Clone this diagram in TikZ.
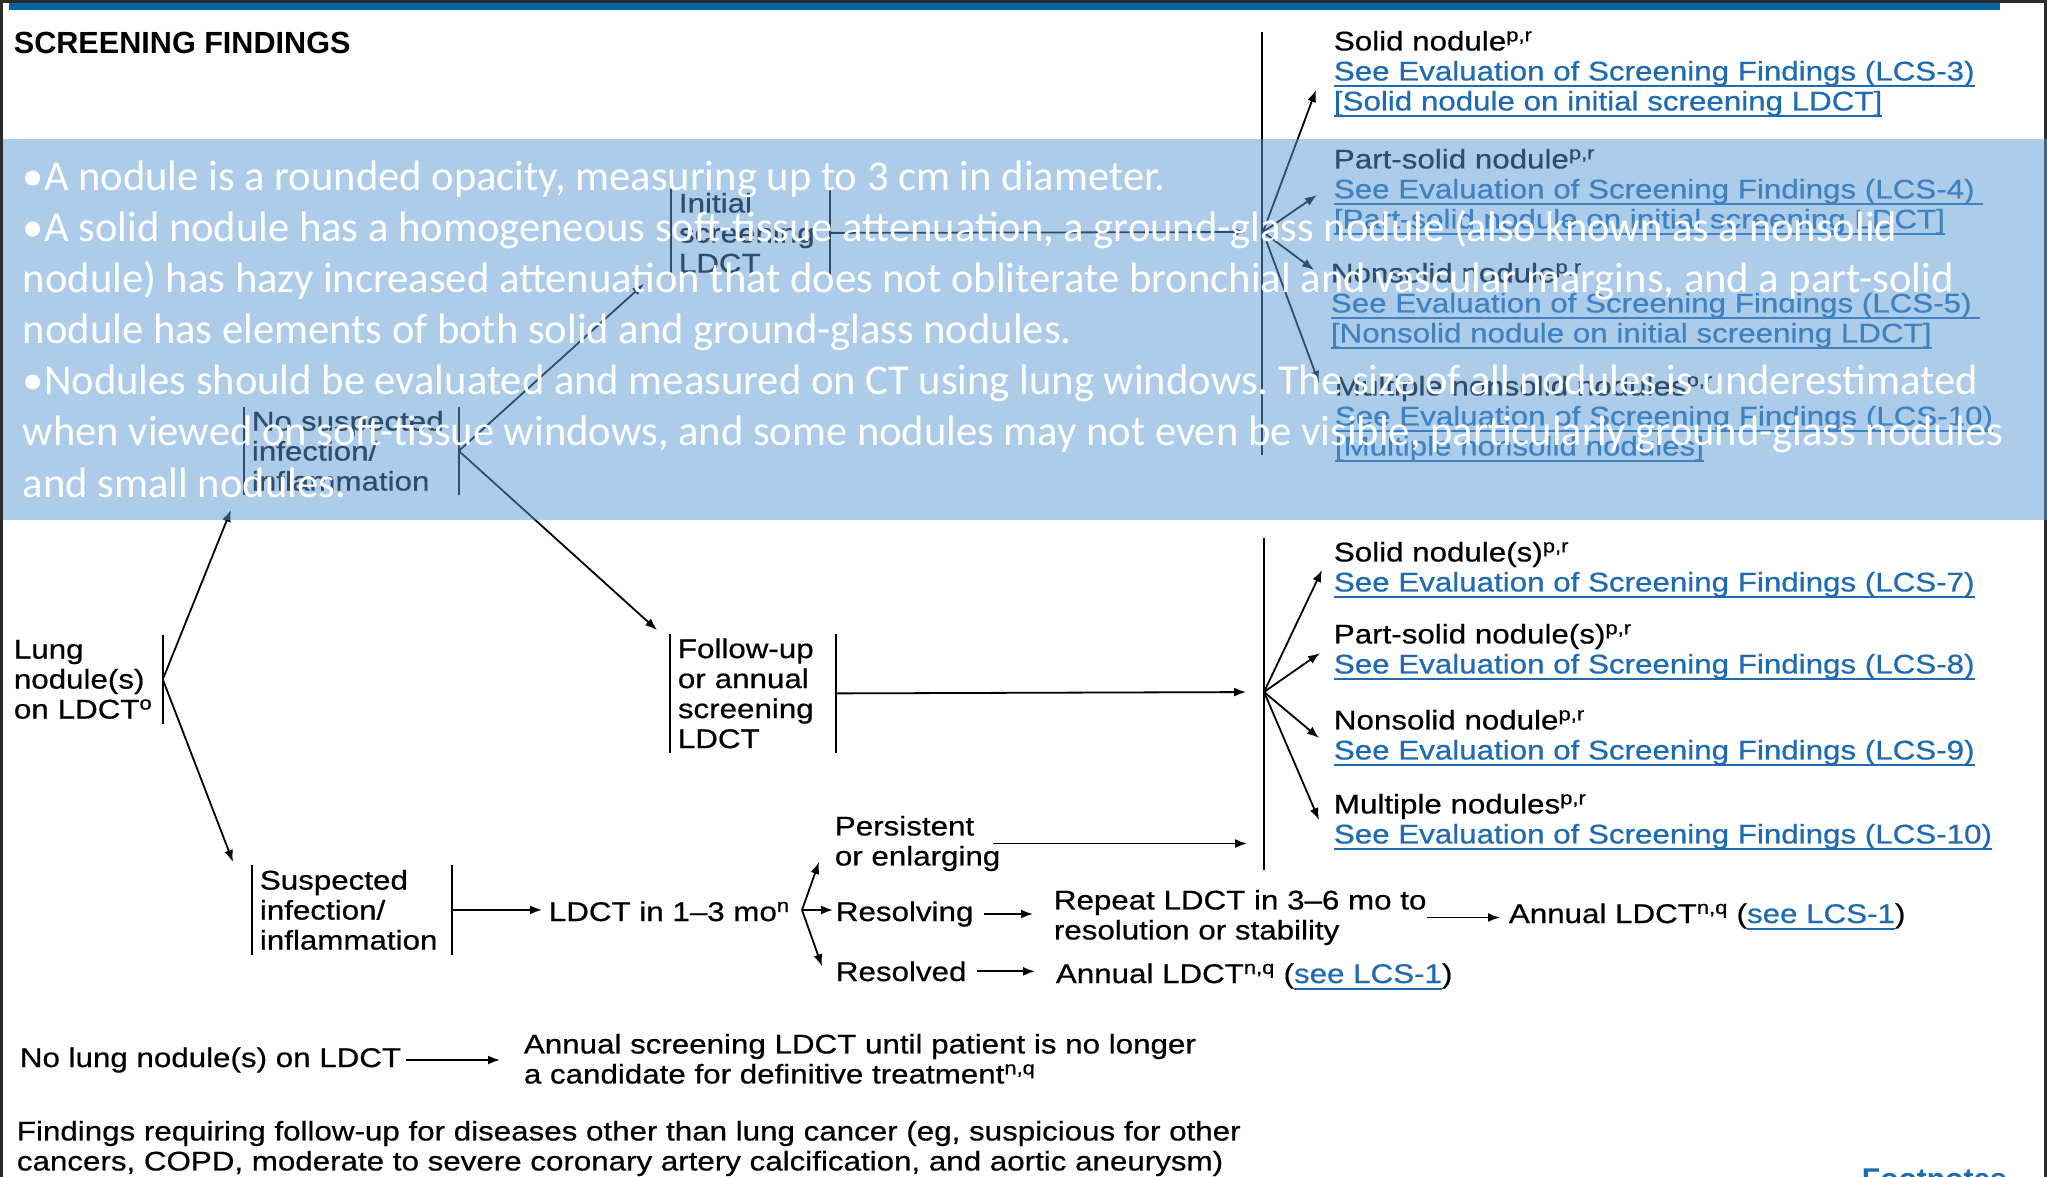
\documentclass[tikz,border=0pt]{standalone}
\usepackage{fontspec}
\setmainfont{Liberation Sans}[FakeStretch=1.16, FakeBold=0.6]
\newfontfamily\headfont{Liberation Sans}
\newfontfamily\slidefont{Carlito}
\usetikzlibrary{arrows.meta,positioning,calc}
\definecolor{nccnblue}{RGB}{0,101,162}
\definecolor{linkblue}{RGB}{31,107,178}
\definecolor{veil}{HTML}{5B9BD5}
\definecolor{frame}{RGB}{44,44,44}
\hyphenpenalty=10000
\exhyphenpenalty=10000
\frenchspacing
\newsavebox\lnkbox
\newcommand{\lnk}[1]{{\color{linkblue}\sbox\lnkbox{#1}\rlap{\rule[-6.8pt]{\wd\lnkbox}{1.8pt}}\usebox\lnkbox}}
\newcommand{\pr}{\textsuperscript{p,r}}
\newcommand{\nq}{\textsuperscript{n,q}}

\begin{document}
\begin{tikzpicture}[x=1pt, y=-1pt, >={Latex[length=12pt,width=9pt]}, line width=1.8pt,
  font=\fontsize{27}{30}\selectfont]
  \tikzstyle{txt}=[inner sep=0pt, align=left]
  \tikzstyle{bars}=[txt, inner xsep=7pt, anchor=north west,
    append after command={(\tikzlastnode.north west) edge[draw, -, line width=2.4pt] (\tikzlastnode.south west)
      (\tikzlastnode.north east) edge[draw, -, line width=2.4pt] (\tikzlastnode.south east)}]
  \tikzstyle{rbar}=[txt, inner xsep=7pt, anchor=north west,
    append after command={(\tikzlastnode.north east) edge[draw, -, line width=2.4pt] (\tikzlastnode.south east)}]
  \tikzstyle{arr}=[->, line width=1.8pt]

  % page
  \useasboundingbox (0,0) rectangle (2047,1177);
  \fill[white] (0,0) rectangle (2047,1177);
  \fill[frame] (0,0) rectangle (3,1177);
  \fill[frame] (2044,0) rectangle (2047,1177);
  \fill[frame] (0,0) rectangle (2047,3);
  \fill[nccnblue] (9,3) rectangle (2000,10);

  \node[txt, anchor=base west, font=\headfont\bfseries\fontsize{30.6}{32}\selectfont] (title) at (13,54) {SCREENING FINDINGS};

  % left part of the tree
  \node[rbar, text width=141pt, minimum height=87pt] (lung) at (6,635) {Lung\\nodule(s)\\on LDCT\textsuperscript{o}};
  \node[bars, text width=199pt, minimum height=86pt] (nosusp) at (244,407) {No suspected\\infection/\\inflammation};
  \node[bars, text width=184pt, minimum height=88pt] (suspected) at (252,865) {Suspected\\infection/\\inflammation};
  \node[bars, text width=143pt, minimum height=86pt] (initial) at (671,189) {Initial\\screening\\LDCT};
  \node[bars, text width=150pt, minimum height=117pt] (followup) at (670,634) {Follow-up\\or annual\\screening\\LDCT};

  \draw[arr] (lung.east) -- ($(nosusp.south west)+(-13,15)$);
  \draw[arr] (lung.east) -- ($(suspected.north west)+(-19,-3)$);
  \draw[arr] (nosusp.east) -- ($(initial.south west)+(-27,7)$);
  \draw[arr] (nosusp.east) -- ($(followup.north west)+(-13,-4)$);

  % forks
  \coordinate (topfork) at (1263,232);
  \coordinate (lowfork) at (1264,692);
  \coordinate (tvtop) at (1262,32);
  \coordinate (tvbot) at (1262,455);
  \coordinate (lvtop) at (1264,538);
  \coordinate (lvbot) at (1264,870);
  \draw (tvtop) -- (tvbot);
  \draw (lvtop) -- (lvbot);
  \draw[arr, shorten >=17pt] (initial.east) -- (topfork);
  \draw[arr, shorten >=18pt] (followup.east) -- (lowfork);

  % findings on initial screening
  \node[txt, anchor=north west] (tsolid) at (1333,30) {Solid nodule\pr\\\lnk{See Evaluation of Screening Findings (LCS-3)}\\\lnk{[Solid nodule on initial screening LDCT]}};
  \node[txt, anchor=north west] (tpart) at (1333,148) {Part-solid nodule\pr\\\lnk{See Evaluation of Screening Findings (LCS-4)\ }\\\lnk{[Part-solid nodule on initial screening LDCT]}};
  \node[txt, anchor=north west] (tnon) at (1330,262) {Nonsolid nodule\pr\\\lnk{See Evaluation of Screening Findings (LCS-5)\ }\\\lnk{[Nonsolid nodule on initial screening LDCT]}};
  \node[txt, anchor=north west] (tmulti) at (1334,375) {Multiple nonsolid nodules\pr\\\lnk{See Evaluation of Screening Findings (LCS-10)}\\\lnk{[Multiple nonsolid nodules]}};
  \draw[arr] (topfork) -- ($(tsolid.north west)+(-17,60)$);
  \draw[arr] (topfork) -- ($(tpart.north west)+(-16,47)$);
  \draw[arr] (topfork) -- ($(tnon.north west)+(-16,8)$);
  \draw[arr] (topfork) -- ($(tmulti.north west)+(-15,8)$);

  % findings on follow-up screening
  \node[txt, anchor=north west] (bsolid) at (1333,541) {Solid nodule(s)\pr\\\lnk{See Evaluation of Screening Findings (LCS-7)}};
  \node[txt, anchor=north west] (bpart) at (1333,623) {Part-solid nodule(s)\pr\\\lnk{See Evaluation of Screening Findings (LCS-8)}};
  \node[txt, anchor=north west] (bnon) at (1333,709) {Nonsolid nodule\pr\\\lnk{See Evaluation of Screening Findings (LCS-9)}};
  \node[txt, anchor=north west] (bmulti) at (1333,793) {Multiple nodules\pr\\\lnk{See Evaluation of Screening Findings (LCS-10)}};
  \draw[arr] (lowfork) -- ($(bsolid.north west)+(-11,29)$);
  \draw[arr] (lowfork) -- ($(bpart.north west)+(-13,30)$);
  \draw[arr] (lowfork) -- ($(bnon.north west)+(-14,29)$);
  \draw[arr] (lowfork) -- ($(bmulti.north west)+(-14,27)$);

  % suspected infection branch
  \node[txt, anchor=base west] (ldct) at (548,921) {LDCT in 1--3 mo\textsuperscript{n}};
  \coordinate (ldctfork) at (802,910);
  \node[txt, anchor=north west] (persist) at (834,815) {Persistent\\or enlarging};
  \node[txt, anchor=base west] (resolving) at (835,921) {Resolving};
  \node[txt, anchor=base west] (resolved) at (835,981) {Resolved};
  \node[txt, anchor=north west] (repeat) at (1053,889) {Repeat LDCT in 3--6 mo to\\resolution or stability};
  \node[txt, anchor=base west] (annualA) at (1508,923) {Annual LDCT\nq{} (\lnk{see LCS-1})};
  \node[txt, anchor=base west] (annualB) at (1055,983) {Annual LDCT\nq{} (\lnk{see LCS-1})};
  \draw[arr, shorten >=6pt] (suspected.east) -- (suspected.east -| ldct.west);
  \draw[arr] (ldctfork) -- ($(persist.north west)+(-15,47)$);
  \draw[arr, shorten >=2pt] (ldctfork) -- (ldctfork -| resolving.west);
  \draw[arr] (ldctfork) -- ($(resolved.west)+(-13,-5)$);
  \draw[arr, shorten >=17pt] ($(persist.east)+(-8,0)$) -- (persist.east -| lowfork);
  \draw[arr, shorten <=10pt, shorten >=20pt] (resolving.east) -- (resolving.east -| repeat.west);
  \draw[arr, shorten >=8pt] (repeat.east) -- (repeat.east -| annualA.west);
  \draw[arr, shorten <=10pt, shorten >=20pt] (resolved.east) -- (resolved.east -| annualB.west);

  % no nodule and other findings
  \node[txt, anchor=base west] (nolung) at (19,1067) {No lung nodule(s) on LDCT};
  \node[txt, anchor=north west] (annscr) at (523,1033) {Annual screening LDCT until patient is no longer\\a candidate for definitive treatment\nq};
  \draw[arr, shorten <=4pt, shorten >=23pt] (nolung.east) -- (nolung.east -| annscr.west);
  \node[txt, anchor=north west] (other) at (16,1120) {Findings requiring follow-up for diseases other than lung cancer (eg, suspicious for other\\cancers, COPD, moderate to severe coronary artery calcification, and aortic aneurysm)};
  \node[txt, anchor=north west, text=linkblue, font=\headfont\bfseries\fontsize{30}{32}\selectfont] (foot) at (1861,1168) {Footnotes};

  % slide overlay with the definitions
  \fill[veil, fill opacity=0.5] (3,139) rectangle (2047,520);
  \node[txt, anchor=north west, text=white, font=\slidefont\fontsize{42.6}{51.1}\selectfont] (notes) at (22,160) {•A nodule is a rounded opacity, measuring up to 3 cm in diameter.\\•A solid nodule has a homogeneous soft-tissue attenuation, a ground-glass nodule (also known as a nonsolid\\nodule) has hazy increased attenuation that does not obliterate bronchial and vascular margins, and a part-solid\\nodule has elements of both solid and ground-glass nodules.\\•Nodules should be evaluated and measured on CT using lung windows. The size of all nodules is underestimated\\when viewed on soft-tissue windows, and some nodules may not even be visible, particularly ground-glass nodules\\and small nodules.};
\end{tikzpicture}
\end{document}
